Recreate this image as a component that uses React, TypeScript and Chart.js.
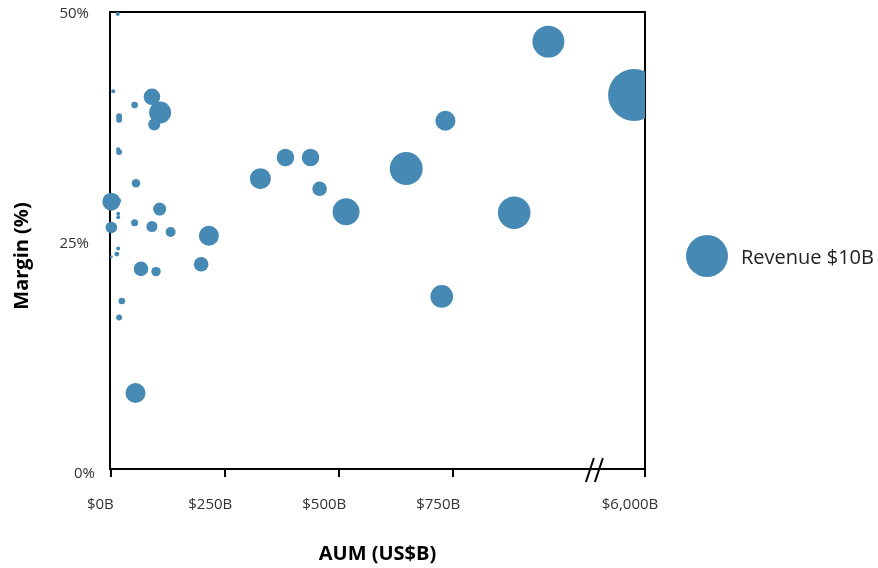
import React, { useEffect, useRef } from 'react';
import { Chart, registerables } from 'chart.js';

Chart.register(...registerables);

// ---- Data (AUM in US$B, margin in %, revenue in US$B) ----
const aumB = [
  14, 4, 89, 107, 51, 17, 17, 94, 15, 17,
  54, 0, 16, 106, 15, 15, 51, 0, 89, 130,
  214, 15, 12, 0, 65, 98, 197, 23, 17, 53,
  327, 382, 437, 457, 515, 647, 733, 884, 725, 959,
  5700,
];
const marginPct = [
  50.0, 41.6, 41.0, 39.3, 40.1, 38.9, 38.5, 38.0, 35.3, 35.0,
  31.6, 29.6, 29.7, 28.8, 28.3, 27.9, 27.3, 26.8, 26.9, 26.3,
  25.9, 24.5, 23.9, 23.6, 22.3, 22.0, 22.8, 18.8, 17.0, 8.8,
  32.1, 34.4, 34.4, 31.0, 28.5, 33.2, 38.4, 28.4, 19.3, 47.0,
  41.2,
];
const revenueB = [
  0.09, 0.09, 1.56, 2.74, 0.25, 0.2, 0.2, 0.82, 0.09, 0.2,
  0.42, 1.84, 0.14, 0.96, 0.09, 0.09, 0.28, 0.76, 0.69, 0.57,
  2.27, 0.09, 0.14, 0.05, 1.21, 0.5, 1.21, 0.25, 0.2, 2.27,
  2.5, 1.72, 1.72, 1.21, 4.13, 6.17, 2.27, 6.0, 2.9, 5.8,
  15.3,
];

const xTickValues = [0, 250, 500, 750, 6000];
const xTickLabels = ['$0B', '$250B', '$500B', '$750B', '$6,000B'];
const yTickValues = [0, 25, 50];
const yTickLabels = ['0%', '25%', '50%'];
const legendRevenue = 10;
const legendLabel = 'Revenue $10B';
const xTitle = 'AUM (US$B)';
const yTitle = 'Margin (%)';

// ---- Broken axis mapping ----
const BREAK_FROM = 1000;
const AXIS_TOP_VALUE = 6000;
const AXIS_END = 1171;
const BREAK_COMPRESS = 12.5;
const BREAK_MARK_AT = 1060;
const toAxis = (v: number) =>
  v <= BREAK_FROM ? v : AXIS_END - (AXIS_TOP_VALUE - v) / BREAK_COMPRESS;

const radiusOf = (rev: number) => 21 * Math.sqrt(rev / legendRevenue);

const BUBBLE = '#4589b4';
const FONT = "'Open Sans', 'Noto Sans', sans-serif";

const labelNudge = {
  id: 'labelNudge',
  beforeDraw(chart: any) {
    const xi = chart.scales.x.getLabelItems();
    if (xi[0] && !xi[0].__nudged) {
      xi[0].options.translation[0] += 4;
      xi[0].__nudged = true;
    }
    const yi = chart.scales.y.getLabelItems();
    if (yi[0] && !yi[0].__nudged) {
      yi[0].options.translation[0] += 6;
      yi[0].__nudged = true;
    }
  },
};

const decor = {
  id: 'decor',
  beforeDatasetsDraw(chart: any) {
    const { ctx, chartArea: a } = chart;
    ctx.save();
    ctx.strokeStyle = '#000';
    ctx.lineWidth = 2;
    ctx.strokeRect(a.left, a.top, a.right - a.left, a.bottom - a.top);
    ctx.restore();
  },
  afterDraw(chart: any) {
    const { ctx, chartArea: a } = chart;
    const xs = chart.scales.x;
    ctx.save();
    // break marks
    const bx = xs.getPixelForValue(BREAK_MARK_AT);
    ctx.strokeStyle = '#000';
    ctx.lineWidth = 2;
    for (const dx of [-4.5, 4.5]) {
      ctx.beginPath();
      ctx.moveTo(bx + dx - 4, a.bottom + 13);
      ctx.lineTo(bx + dx + 4, a.bottom - 11);
      ctx.stroke();
    }
    // axis titles
    ctx.fillStyle = '#000';
    ctx.font = `bold 20px ${FONT}`;
    ctx.textAlign = 'center';
    ctx.textBaseline = 'middle';
    ctx.fillText(xTitle, (a.left + a.right) / 2, 554);
    ctx.save();
    ctx.translate(22, 256);
    ctx.rotate(-Math.PI / 2);
    ctx.fillText(yTitle, 0, 0);
    ctx.restore();
    // legend
    ctx.fillStyle = BUBBLE;
    ctx.beginPath();
    ctx.arc(707, 256, radiusOf(legendRevenue), 0, Math.PI * 2);
    ctx.fill();
    ctx.fillStyle = '#222';
    ctx.font = `20px ${FONT}`;
    ctx.textAlign = 'left';
    ctx.fillText(legendLabel, 741, 258);
    ctx.restore();
  },
};

export default function App() {
  const ref = useRef<HTMLCanvasElement | null>(null);

  useEffect(() => {
    document.body.style.margin = '0';
    const canvas = ref.current;
    if (!canvas) return;
    Chart.defaults.font.family = FONT;

    const points = aumB.map((v, i) => ({
      x: toAxis(v),
      y: marginPct[i],
      r: radiusOf(revenueB[i]),
    }));

    const chart = new Chart(canvas, {
      type: 'bubble',
      data: {
        datasets: [
          {
            label: legendLabel,
            data: points,
            backgroundColor: BUBBLE,
            borderWidth: 0,
            hoverBorderWidth: 0,
            clip: { left: 8, top: 5, right: 0, bottom: 0 } as any,
          },
        ],
      },
      options: {
        responsive: false,
        animation: false,
        devicePixelRatio: 1,
        layout: { autoPadding: false, padding: { top: 12, left: 0, right: 233, bottom: 0 } },
        plugins: {
          legend: { display: false },
          tooltip: { enabled: false },
        },
        scales: {
          x: {
            type: 'linear',
            min: -3,
            max: toAxis(AXIS_TOP_VALUE),
            afterBuildTicks: (s: any) => {
              s.ticks = xTickValues.map((v) => ({ value: toAxis(v) }));
            },
            afterFit: (s: any) => {
              s.height = 99;
              s.paddingLeft = 0;
              s.paddingRight = 0;
            },
            grid: {
              display: true,
              drawOnChartArea: false,
              drawTicks: true,
              tickLength: 8,
              color: '#000',
              lineWidth: 2,
            },
            border: { display: false },
            ticks: {
              autoSkip: false,
              maxRotation: 0,
              minRotation: 0,
              padding: 19,
              labelOffset: -15,
              color: '#333',
              font: { size: 15, family: FONT },
              callback: (_v: any, i: number) => xTickLabels[i],
            },
          },
          y: {
            type: 'linear',
            min: 0.54,
            max: 50.22,
            afterBuildTicks: (s: any) => {
              s.ticks = yTickValues.map((v) => ({ value: v }));
            },
            afterFit: (s: any) => {
              s.width = 110;
              s.paddingTop = 0;
              s.paddingBottom = 0;
            },
            grid: { display: false },
            border: { display: false },
            ticks: {
              padding: 13,
              color: '#333',
              font: { size: 15, family: FONT },
              callback: (_v: any, i: number) => yTickLabels[i],
            },
          },
        },
      } as any,
      plugins: [labelNudge, decor],
    });

    return () => chart.destroy();
  }, []);

  return (
    <div style={{ width: 878, height: 568, overflow: 'hidden', background: '#fff' }}>
      <canvas ref={ref} width={878} height={568} style={{ display: 'block' }} />
    </div>
  );
}
